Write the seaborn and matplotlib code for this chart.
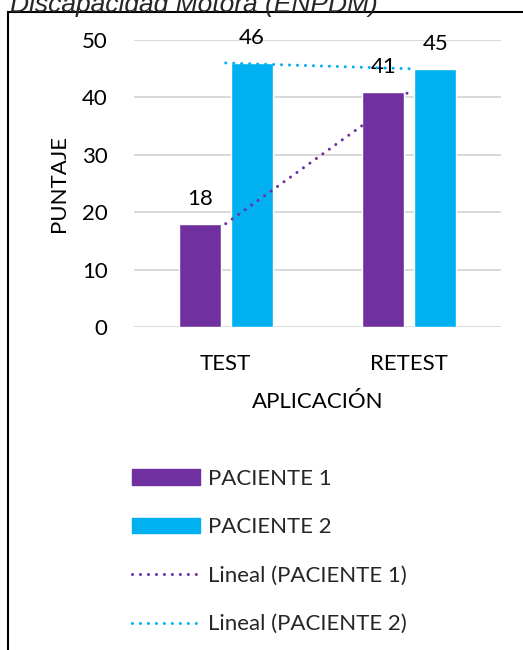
import matplotlib
matplotlib.use("Agg")
import matplotlib.pyplot as plt
import seaborn as sns
import pandas as pd
import numpy as np
from matplotlib.patches import Patch, Rectangle
from matplotlib.lines import Line2D

# datos del gráfico
aplicacion = ["TEST", "RETEST"]
series = ["PACIENTE 1", "PACIENTE 2"]
paciente_1 = [18, 41]
paciente_2 = [46, 45]
colores = ["#7030A0", "#00B0F0"]

df = pd.DataFrame({
    "APLICACIÓN": aplicacion * 2,
    "PUNTAJE": paciente_1 + paciente_2,
    "serie": [series[0]] * 2 + [series[1]] * 2,
})

sns.set_theme(style="white")
plt.rcParams["font.family"] = ["Lato", "DejaVu Sans"]

fig = plt.figure(figsize=(5.23, 6.5), dpi=100)
ax = fig.add_axes([0.2562, 0.4969, 0.7017, 0.4415])

sns.barplot(data=df, x="APLICACIÓN", y="PUNTAJE", hue="serie",
            palette=colores, saturation=1, width=0.567, gap=0.19,
            legend=False, ax=ax)

for cont in ax.containers:
    ax.bar_label(cont, fontsize=16, padding=10.5, color="black")

# líneas de tendencia lineal (como en Excel)
x = np.arange(len(aplicacion))
for vals, c in zip([paciente_1, paciente_2], colores):
    m, b = np.polyfit(x, vals, 1)
    ax.plot(x, m * x + b, color=c, lw=2.2, linestyle=(0, (0.01, 2.6)),
            dash_capstyle="round", zorder=5)

ax.set_ylim(0, 50)
ax.set_xlim(-0.5, 1.5)
ax.set_yticks(range(0, 51, 10))
ax.set_axisbelow(True)
ax.yaxis.grid(True, color="#D9D9D9", lw=1.4)
for s in ax.spines.values():
    s.set_visible(False)
ax.tick_params(axis="y", length=0, pad=19, labelsize=16, colors="black")
ax.tick_params(axis="x", length=0, pad=19.5, labelsize=16, colors="black")
ax.set_xlabel("APLICACIÓN", fontsize=16, color="black")
ax.set_ylabel("PUNTAJE", fontsize=16, color="black")
ax.xaxis.set_label_coords(0.5, -0.225)
ax.yaxis.set_label_coords(-0.178, 0.5)

handles = [
    Patch(color=colores[0], label=series[0]),
    Patch(color=colores[1], label=series[1]),
    Line2D([], [], color=colores[0], lw=2.2, linestyle=(0, (0.01, 2.6)),
           dash_capstyle="round", label="Lineal (PACIENTE 1)"),
    Line2D([], [], color=colores[1], lw=2.2, linestyle=(0, (0.01, 2.6)),
           dash_capstyle="round", label="Lineal (PACIENTE 2)"),
]
fig.legend(handles=handles, loc="upper left",
           bbox_to_anchor=(132 / 523, 1 - 469 / 650), frameon=False,
           fontsize=16, handlelength=3.06, handleheight=0.7,
           handletextpad=0.36, labelspacing=1.28, borderpad=0, borderaxespad=0)

# marco y título recortado
fig.add_artist(Rectangle((8 / 523, -0.05), 1.0, 1 - 12 / 650 + 0.05,
                         transform=fig.transFigure, fill=False,
                         ec="black", lw=1.5))
fig.text(10 / 523, 1 - 12 / 650, "Discapacidad Motora (ENPDM)",
         family="Liberation Sans", style="italic", fontsize=19,
         va="baseline", ha="left")

fig.savefig("out.png", dpi=100)
